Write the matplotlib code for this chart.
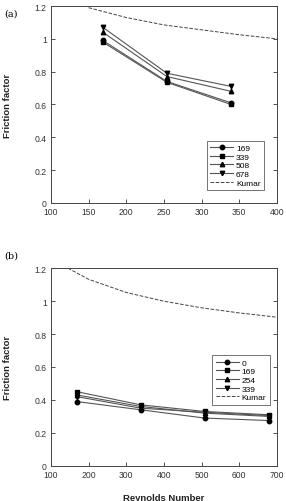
import matplotlib
matplotlib.use("Agg")
import matplotlib.pyplot as plt

plt.rcParams["font.family"] = ["Liberation Sans", "DejaVu Sans"]

# Panel (a)
re_a = [169, 254, 339]
a_169 = [0.99, 0.74, 0.61]
a_339 = [0.98, 0.735, 0.60]
a_508 = [1.04, 0.77, 0.68]
a_678 = [1.07, 0.79, 0.71]
kumar_a_re = [150, 200, 250, 300, 350, 400]
kumar_a_f = [1.19, 1.13, 1.085, 1.055, 1.025, 1.0]

# Panel (b)
re_b = [169, 339, 508, 678]
b_0 = [0.39, 0.34, 0.29, 0.275]
b_169 = [0.45, 0.37, 0.33, 0.31]
b_254 = [0.43, 0.36, 0.32, 0.30]
b_339 = [0.42, 0.35, 0.325, 0.305]
kumar_b_re = [145, 200, 300, 400, 500, 600, 700]
kumar_b_f = [1.2, 1.132, 1.052, 0.999, 0.959, 0.928, 0.902]

markers = ["o", "s", "^", "v"]
line_kw = dict(color="#555555", linewidth=0.8, markersize=3.2,
               markerfacecolor="black", markeredgecolor="black")

fig = plt.figure(figsize=(2.86, 5.02), dpi=100)
ax1 = fig.add_axes([0.178, 0.594, 0.790, 0.392])
ax2 = fig.add_axes([0.178, 0.070, 0.790, 0.394])

for ys, lab, m in zip([a_169, a_339, a_508, a_678], ["169", "339", "508", "678"], markers):
    ax1.plot(re_a, ys, marker=m, label=lab, **line_kw)
ax1.plot(kumar_a_re, kumar_a_f, "--", color="#444444", linewidth=0.7, label="Kumar")
ax1.set_xlim(100, 400)
ax1.set_xticks([100, 150, 200, 250, 300, 350, 400])

for ys, lab, m in zip([b_0, b_169, b_254, b_339], ["0", "169", "254", "339"], markers):
    ax2.plot(re_b, ys, marker=m, label=lab, **line_kw)
ax2.plot(kumar_b_re, kumar_b_f, "--", color="#444444", linewidth=0.7, label="Kumar")
ax2.set_xlim(100, 700)
ax2.set_xticks([100, 200, 300, 400, 500, 600, 700])
ax2.set_xlabel("Reynolds Number", fontsize=6.8, fontweight="bold", labelpad=10,
               color="#222222")

for ax in (ax1, ax2):
    ax.set_ylim(0, 1.2)
    ax.set_yticks([0, 0.2, 0.4, 0.6, 0.8, 1.0, 1.2])
    ax.set_yticklabels(["0", "0.2", "0.4", "0.6", "0.8", "1", "1.2"])
    ax.tick_params(direction="in", labelsize=6.2, length=3, width=0.6,
                   right=True, top=False, pad=3, colors="#333333")
    for s in ax.spines.values():
        s.set_linewidth(0.7)
        s.set_color("#444444")
    ax.set_ylabel("Friction factor", fontsize=6.8, fontweight="bold", labelpad=16,
                  color="#222222")

leg_kw = dict(fontsize=6, frameon=True, fancybox=False, edgecolor="#333333",
              handlelength=2.8, handletextpad=0.3, labelspacing=0.1,
              borderpad=0.4, borderaxespad=0)
leg1 = ax1.legend(loc="lower left", bbox_to_anchor=(0.69, 0.065), **leg_kw)
leg2 = ax2.legend(loc="lower left", bbox_to_anchor=(0.715, 0.31), **leg_kw)
for leg in (leg1, leg2):
    leg.get_frame().set_linewidth(0.6)

fig.text(0.015, 0.968, "(a)", fontsize=7, family="DejaVu Serif")
fig.text(0.015, 0.485, "(b)", fontsize=7, family="DejaVu Serif")

fig.savefig("out.png", dpi=100)
